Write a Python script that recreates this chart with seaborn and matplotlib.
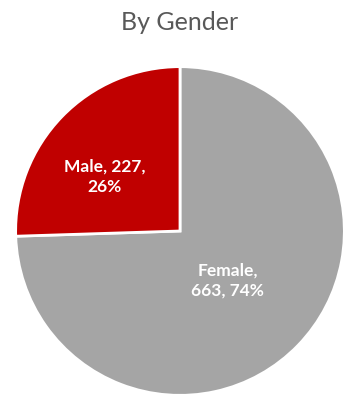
import matplotlib
matplotlib.use("Agg")
import matplotlib.pyplot as plt
import seaborn as sns

categories = ["Female", "Male"]
counts = [663, 227]
percents = ["74%", "26%"]
colors = ["#A5A5A5", "#C00000"]

sns.set_theme(style="white")
plt.rcParams['font.family'] = ['Lato', 'DejaVu Sans']

fig = plt.figure(figsize=(3.6, 4.11), dpi=100)
ax = fig.add_axes([(180 - 166) / 360, 14 / 411, 332 / 360, 332 / 411])
wedges, _ = ax.pie(counts, colors=colors, startangle=90, counterclock=False,
                   wedgeprops=dict(edgecolor="white", linewidth=2))
ax.set_xlim(-1.01, 1.01)
ax.set_ylim(-1.01, 1.01)
ax.set_aspect("equal")
ax.axis("off")

label_pos = {"Female": (0.29, -0.30), "Male": (-0.46, 0.33)}
for cat, c, p in zip(categories, counts, percents):
    x, y = label_pos[cat]
    ax.text(x, y, f"{cat},\n{c}, {p}" if cat == "Female" else f"{cat}, {c},\n{p}",
            ha="center", va="center", color="white", fontsize=12.5,
            fontweight="bold", linespacing=1.3)

fig.text(0.5, 1 - 22 / 411, "By Gender", ha="center", va="center",
         fontsize=18, color="#595959")

fig.savefig("out.png", dpi=100)
